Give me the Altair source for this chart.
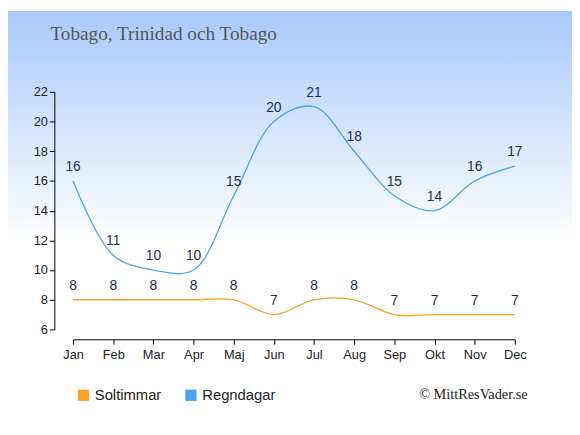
import altair as alt
import pandas as pd

months = ["Jan", "Feb", "Mar", "Apr", "Maj", "Jun", "Jul", "Aug", "Sep", "Okt", "Nov", "Dec"]
soltimmar = [8, 8, 8, 8, 8, 7, 8, 8, 7, 7, 7, 7]
regndagar = [16, 11, 10, 10, 15, 20, 21, 18, 15, 14, 16, 17]
series_names = ["Soltimmar", "Regndagar"]
series_colors = ["#f9a124", "#4aa3ee"]
y_ticks = [6, 8, 10, 12, 14, 16, 18, 20, 22]

rows = []
for name, vals in zip(series_names, [soltimmar, regndagar]):
    for m, v in zip(months, vals):
        rows.append({"month": m, "value": v, "series": name})
df = pd.DataFrame(rows)

W, H = 448, 241
PL, PT = 66, 82
TOTAL_W, TOTAL_H = 572, 427

x_enc = alt.X("month:N", sort=months, title=None,
              scale=alt.Scale(type="point", padding=0),
              axis=alt.Axis(labelAngle=0, offset=10, domainColor="#000", tickColor="#000",
                            tickSize=5, labelFontSize=13, labelColor="#222", labelPadding=4,
                            grid=False, labelFont="Liberation Sans", zindex=2,
                            labelOverlap=False))
y_enc = alt.Y("value:Q", title=None,
              scale=alt.Scale(domain=[6, 22], nice=False, zero=False),
              axis=alt.Axis(values=y_ticks, tickCount=9, offset=19, domainColor="#000",
                            tickColor="#000", tickSize=5, labelFontSize=13, labelColor="#222",
                            grid=False, labelFont="Liberation Sans", zindex=2,
                            labelOverlap=False))

color_scale = alt.Scale(domain=series_names, range=series_colors)

bg = alt.Chart(pd.DataFrame({"a": [0]})).mark_rect(
    clip=False,
    color=alt.Gradient(
        gradient="linear",
        stops=[alt.GradientStop(color="#a8c9fb", offset=0),
               alt.GradientStop(color="#ffffff", offset=0.55),
               alt.GradientStop(color="#ffffff", offset=1)],
        x1=0, x2=0, y1=0, y2=1)
).encode(x=alt.value(-PL), x2=alt.value(TOTAL_W - PL), y=alt.value(-PT), y2=alt.value(TOTAL_H - PT))

legend_squares = alt.Chart(df).mark_square(filled=True, size=0, opacity=1).encode(
    x=x_enc, y=y_enc,
    color=alt.Color("series:N", sort=series_names, scale=color_scale,
                    legend=alt.Legend(title=None, orient="none", direction="horizontal",
                                      legendX=3, legendY=300, symbolType="square",
                                      symbolSize=130, labelFontSize=15, labelColor="#222",
                                      labelFont="Liberation Sans", columnPadding=22,
                                      symbolStrokeWidth=0, symbolOpacity=1)),
)

lines = alt.Chart(df).mark_line(interpolate="catmull-rom", strokeWidth=1.3).encode(
    x=x_enc, y=y_enc,
    color=alt.Color("series:N", sort=series_names, scale=color_scale, legend=None),
)

labels = alt.Chart(df).mark_text(dy=-14, fontSize=14, color="#1f2d4f",
                                 font="Liberation Sans").encode(
    x=x_enc, y=y_enc, text="value:Q"
)

title = alt.Chart(pd.DataFrame({"t": ["Tobago, Trinidad och Tobago"]})).mark_text(
    align="left", baseline="middle", font="Liberation Serif", fontSize=19.5, color="#555555"
).encode(x=alt.value(-23), y=alt.value(-59), text="t:N")

credit = alt.Chart(pd.DataFrame({"t": ["© MittResVader.se"]})).mark_text(
    align="right", baseline="middle", font="Liberation Serif", fontSize=14.5, color="#222222"
).encode(x=alt.value(461), y=alt.value(308), text="t:N")

chart = alt.layer(bg, legend_squares, lines, labels, title, credit).properties(
    width=W, height=H,
    autosize=alt.AutoSizeParams(type="none"),
    padding={"left": PL, "top": PT, "right": TOTAL_W - PL - W, "bottom": TOTAL_H - PT - H},
).configure_view(stroke=None)

chart.save("out.html", embed_options={"renderer": "svg", "actions": False})
